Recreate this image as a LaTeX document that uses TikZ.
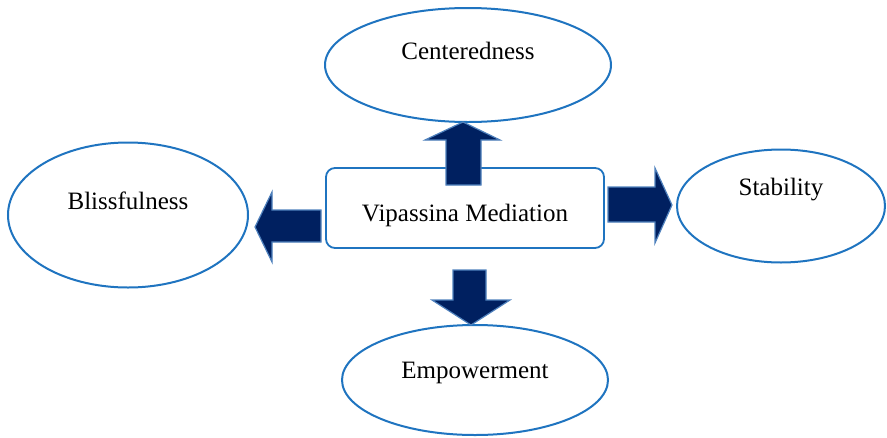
\documentclass[tikz,border=0pt]{standalone}
\usepackage{fontspec}
\setmainfont{Liberation Serif}
\usetikzlibrary{shapes.geometric,positioning}
\definecolor{navy}{HTML}{002060}
\definecolor{rimblue}{HTML}{1F74C0}
\definecolor{edgeblue}{HTML}{4F81BD}
\tikzset{
    oval/.style={ellipse, draw=rimblue, line width=2pt, fill=white},
    mainbox/.style={rectangle, rounded corners=9pt, draw=rimblue, line width=1.8pt, fill=white},
    blockarrow/.style={fill=navy, draw=edgeblue, line width=1.2pt, line join=miter},
    txt/.style={font=\fontsize{25}{29}\selectfont}
}

\begin{document}
\begin{tikzpicture}[x=1pt, y=-1pt]
    \useasboundingbox (0, 0) rectangle (887, 437);
    % outer ellipses
    \node[oval, minimum width=286, minimum height=114] (cent) at (468, 65) {};
    \node[oval, minimum width=240, minimum height=145] (bliss) at (128, 215) {};
    \node[oval, minimum width=208, minimum height=113] (stab) at (781, 206) {};
    \node[oval, minimum width=266, minimum height=110] (emp) at (475, 380) {};
    \node[txt] (centtxt) at ([yshift=14pt]cent.center) {Centeredness};
    \node[txt] (blisstxt) at ([yshift=14pt]bliss.center) {Blissfulness};
    \node[txt] (stabtxt) at ([yshift=16pt]stab.center) {Stability};
    \node[txt] (emptxt) at ([yshift=7pt]emp.center) {Empowerment};
    % centre box
    \node[mainbox, minimum width=278, minimum height=80] (vip) at (465, 208) {};
    \node[txt] (viptxt) at ([yshift=-7pt]vip.center) {Vipassina Mediation};
    % block arrows
    \draw[blockarrow] (446, 185) -- (446, 140) -- (425, 140) -- (463, 122)
        -- (500, 140) -- (481, 140) -- (481, 185) -- cycle;
    \draw[blockarrow] (453, 270) -- (453, 300) -- (432, 300) -- (471, 325)
        -- (510, 300) -- (486, 300) -- (486, 270) -- cycle;
    \draw[blockarrow] (321, 210) -- (272, 210) -- (272, 192) -- (255, 227)
        -- (272, 262) -- (272, 242) -- (321, 242) -- cycle;
    \draw[blockarrow] (608, 187) -- (655, 187) -- (655, 168) -- (672, 205)
        -- (655, 243) -- (655, 222) -- (608, 222) -- cycle;
\end{tikzpicture}
\end{document}
